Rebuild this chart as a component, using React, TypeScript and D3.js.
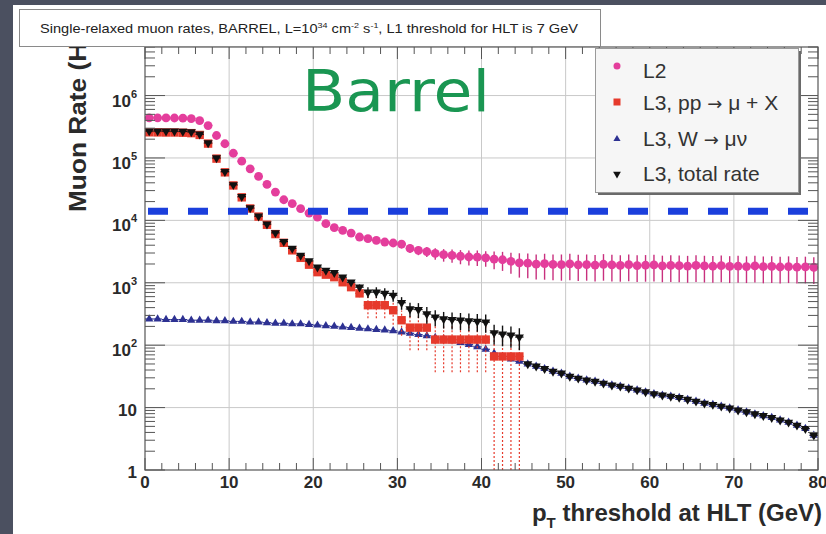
import React from "react";
import * as d3 from "d3";

const WIDTH = 826;
const HEIGHT = 534;

// lower edges of the 1 GeV wide threshold bins
const PT_BINS = d3.range(0, 80);
const X_TICKS = [0, 10, 20, 30, 40, 50, 60, 70, 80];
const Y_DECADES = [1, 10, 100, 1000, 10000, 100000, 1000000];
const HLT_BUDGET_HZ = 1.4e4;

const L2_RATE = [
  440000, 440000, 438000, 437000, 434000, 428000, 398000, 331000, 229000, 169000,
  119000, 89000, 67000, 50600, 37700, 28400, 21400, 18500, 15400, 13100,
  11300, 8850, 7640, 6920, 6270, 5410, 5090, 4790, 4500, 4340,
  4170, 3550, 3310, 3160, 2950, 2820, 2750, 2660, 2590, 2570,
  2510, 2400, 2340, 2210, 2090, 2060, 1990, 2020, 1970, 1960,
  2010, 1940, 1960, 1920, 1980, 1930, 1900, 1950, 1890, 1910,
  1930, 1870, 1900, 1880, 1850, 1900, 1860, 1840, 1880, 1830,
  1850, 1820, 1860, 1810, 1830, 1790, 1820, 1780, 1800, 1760,
];
const L2_ERR = [
  0, 0, 0, 0, 0, 0, 0, 0, 0, 0,
  0, 0, 0, 0, 0, 0, 0, 0, 0, 0,
  0, 0, 0, 0, 0, 0, 0, 0, 320, 360,
  620, 560, 540, 580, 620, 640, 650, 680, 690, 720,
  700, 760, 790, 820, 880, 880, 860, 900, 870, 880,
  910, 870, 880, 870, 900, 880, 860, 890, 860, 870,
  880, 850, 870, 860, 850, 870, 850, 840, 860, 840,
  850, 830, 850, 830, 840, 820, 830, 810, 820, 800,
];

const L3_PP_RATE = [
  258000, 257000, 256000, 256000, 254000, 250000, 234000, 170000, 97700, 58900,
  36300, 23400, 15500, 11500, 8510, 6030, 4370, 3310, 2510, 1950,
  1480, 1350, 1230, 1020, 851, 676, 437, 437, 437, 363,
  251, 191, 191, 191, 123, 123, 123, 123, 123, 123,
  123, 66, 66, 66, 66,
];
const L3_PP_ERR = [
  0, 0, 0, 0, 0, 0, 0, 0, 0, 0,
  0, 0, 0, 0, 0, 0, 0, 0, 0, 0,
  85, 85, 85, 80, 80, 90, 168, 168, 168, 150,
  110, 108, 108, 108, 86, 86, 86, 86, 86, 86,
  86, 70, 70, 70, 70,
];

const L3_W_RATE = [
  263, 263, 257, 257, 257, 251, 251, 251, 245, 245,
  240, 240, 234, 234, 229, 224, 224, 219, 219, 214,
  209, 204, 200, 195, 191, 186, 182, 178, 174, 170,
  162, 155, 148, 141, 132, 126, 117, 110, 102, 94,
  86, 74, 66, 60, 55, 50, 46, 42, 38, 35.5,
  31.6, 29.5, 27.5, 26.3, 24.5, 22.9, 21.9, 20.4, 19.1, 17.8,
  16.6, 15.8, 15.1, 14.5, 13.5, 12.6, 11.7, 11.2, 10.5, 9.8,
  9.1, 8.5, 7.9, 7.4, 6.9, 6.3, 5.8, 5.2, 4.6, 3.6,
];
const L3_W_ERR = [
  10, 10, 10, 10, 10, 10, 10, 10, 10, 10,
  9, 9, 9, 9, 9, 9, 9, 9, 9, 9,
  8, 8, 8, 8, 8, 8, 8, 8, 7, 7,
  7, 7, 7, 7, 6, 6, 6, 6, 5, 5,
  5, 4, 4, 4, 4, 4, 3.7, 3.4, 3.1, 2.9,
  2.6, 2.4, 2.3, 2.2, 2.0, 1.9, 1.8, 1.7, 1.6, 1.5,
  1.4, 1.3, 1.3, 1.2, 1.2, 1.1, 1.0, 1.0, 0.95, 0.9,
  0.85, 0.8, 0.75, 0.7, 0.66, 0.62, 0.58, 0.54, 0.5, 0.45,
];

const L3_TOTAL_RATE = [
  270000, 270000, 269000, 268000, 266000, 262000, 240000, 174000, 100000, 60300,
  37200, 24000, 15800, 11700, 8710, 6310, 4570, 3550, 2750, 2240,
  1780, 1580, 1450, 1230, 1020, 851, 708, 708, 676, 631,
  479, 380, 372, 316, 282, 263, 257, 251, 245, 240,
  234, 158, 151, 145, 135, 50, 46, 42, 38, 35.5,
  31.6, 29.5, 27.5, 26.3, 24.5, 22.9, 21.9, 20.4, 19.1, 17.8,
  16.6, 15.8, 15.1, 14.5, 13.5, 12.6, 11.7, 11.2, 10.5, 9.8,
  9.1, 8.5, 7.9, 7.4, 6.9, 6.3, 5.8, 5.2, 4.6, 3.6,
];
const L3_TOTAL_ERR = [
  0, 0, 0, 0, 0, 0, 0, 0, 0, 0,
  0, 0, 0, 0, 0, 0, 250, 200, 170, 140,
  90, 85, 85, 80, 80, 90, 140, 140, 140, 135,
  110, 100, 100, 95, 80, 78, 78, 77, 77, 76,
  76, 55, 55, 54, 52, 4, 3.7, 3.4, 3.1, 2.9,
  2.6, 2.4, 2.3, 2.2, 2.0, 1.9, 1.8, 1.7, 1.6, 1.5,
  1.4, 1.3, 1.3, 1.2, 1.2, 1.1, 1.0, 1.0, 0.95, 0.9,
  0.85, 0.8, 0.75, 0.7, 0.66, 0.62, 0.58, 0.54, 0.5, 0.45,
];

const COLORS = {
  l2: "#e43e9c",
  l2Bar: "#c8307e",
  pp: "#e63a2c",
  w: "#2d3192",
  total: "#111111",
  budget: "#1b3fdc",
  grid: "#c9c9c9",
  axis: "#555555",
  barrel: "#1a9652",
};

const FONT = "'Liberation Sans', Arial, Helvetica, sans-serif";
const ARROW_FONT = "'DejaVu Sans', sans-serif";
const FRAME = { left: 145, right: 818, top: 47, bottom: 470 };

const x = d3.scaleLinear().domain([0, 80]).range([FRAME.left, FRAME.right]);
const y = d3.scaleLog().domain([1, 6e6]).range([FRAME.bottom, FRAME.top]);
const yClamp = (v: number) =>
  v <= 0 ? FRAME.bottom : Math.max(FRAME.top, Math.min(FRAME.bottom, y(v)));

const triUp = (size: number) => d3.symbol().type(d3.symbolTriangle).size(size)() || "";

type Marker = "circle" | "square" | "up" | "down";

function MarkerShape({ kind, cx, cy, color, s }: { kind: Marker; cx: number; cy: number; color: string; s: number }) {
  if (kind === "circle") return <circle cx={cx} cy={cy} r={s} fill={color} />;
  if (kind === "square") return <rect x={cx - s} y={cy - s} width={2 * s} height={2 * s} fill={color} />;
  const p = triUp(s);
  return (
    <path
      d={p}
      fill={color}
      transform={`translate(${cx},${cy})${kind === "down" ? " rotate(180)" : ""}`}
    />
  );
}

function Series({
  rates, errs, color, barColor, dotted, kind, s,
}: {
  rates: number[]; errs: number[]; color: string; barColor: string; dotted?: boolean; kind: Marker; s: number;
}) {
  return (
    <g>
      {rates.map((v, i) => {
        if (!(v > 0)) return null;
        const e = errs[i] || 0;
        const cx = x(PT_BINS[i] + 0.5);
        const cy = y(v);
        return (
          <g key={i}>
            <line x1={x(PT_BINS[i])} x2={x(PT_BINS[i] + 1)} y1={cy} y2={cy} stroke={color} strokeWidth={1.2} />
            {e > 0 && (
              <line
                x1={cx}
                x2={cx}
                y1={yClamp(v - e)}
                y2={yClamp(v + e)}
                stroke={barColor}
                strokeWidth={dotted ? 1.2 : 1.4}
                strokeDasharray={dotted ? "2 2" : undefined}
              />
            )}
            <MarkerShape kind={kind} cx={cx} cy={cy} color={color} s={s} />
          </g>
        );
      })}
    </g>
  );
}

// legend rows: label parts before and after the arrow
const LEGEND: { pre: string; post: string; kind: Marker; color: string; s: number }[] = [
  { pre: "L2", post: "", kind: "circle", color: COLORS.l2, s: 3.5 },
  { pre: "L3, pp ", post: " \u03bc + X", kind: "square", color: COLORS.pp, s: 3.5 },
  { pre: "L3, W ", post: " \u03bc\u03bd", kind: "up", color: COLORS.w, s: 22 },
  { pre: "L3, total rate", post: "", kind: "down", color: COLORS.total, s: 26 },
];
const LEGEND_MARK_Y = [66, 102, 139, 174];
const LEGEND_TEXT_Y = [78, 110, 146, 181];

export default function App() {
  const minorY: number[] = [];
  Y_DECADES.forEach((d) => {
    for (let k = 2; k <= 9; k++) if (k * d <= 6e6) minorY.push(k * d);
  });
  const minorX = d3.range(0, 81, 2).filter((v) => v % 10 !== 0);

  return (
    <svg
      width={WIDTH}
      height={HEIGHT}
      style={{ position: "absolute", left: 0, top: 0, display: "block" }}
      fontFamily={FONT}
    >
      <rect width={WIDTH} height={HEIGHT} fill="#4b5060" />
      <rect x={13} y={5} width={WIDTH - 13} height={HEIGHT - 5} fill="#ffffff" />

      {/* grid */}
      {X_TICKS.slice(1, -1).map((t) => (
        <line key={"gx" + t} x1={x(t)} x2={x(t)} y1={FRAME.top} y2={FRAME.bottom} stroke={COLORS.grid} strokeWidth={1} />
      ))}
      {Y_DECADES.slice(1).map((t) => (
        <line key={"gy" + t} x1={FRAME.left} x2={FRAME.right} y1={y(t)} y2={y(t)} stroke={COLORS.grid} strokeWidth={1} />
      ))}

      {/* data */}
      <Series rates={L2_RATE} errs={L2_ERR} color={COLORS.l2} barColor={COLORS.l2Bar} kind="circle" s={4.4} />
      <Series rates={L3_W_RATE} errs={L3_W_ERR} color={COLORS.w} barColor={COLORS.w} kind="up" s={30} />
      <Series rates={L3_PP_RATE} errs={L3_PP_ERR} color={COLORS.pp} barColor={COLORS.pp} dotted kind="square" s={4.2} />
      <Series rates={L3_TOTAL_RATE} errs={L3_TOTAL_ERR} color={COLORS.total} barColor={COLORS.total} kind="down" s={36} />

      {/* HLT rate budget */}
      <line
        x1={FRAME.left + 3}
        x2={FRAME.right}
        y1={y(HLT_BUDGET_HZ)}
        y2={y(HLT_BUDGET_HZ)}
        stroke={COLORS.budget}
        strokeWidth={7}
        strokeDasharray="20 20"
      />

      {/* frame and ticks */}
      <rect
        x={FRAME.left}
        y={FRAME.top}
        width={FRAME.right - FRAME.left}
        height={FRAME.bottom - FRAME.top}
        fill="none"
        stroke={COLORS.axis}
        strokeWidth={1.2}
      />
      {X_TICKS.map((t) => (
        <g key={"xt" + t} stroke={COLORS.axis} strokeWidth={1}>
          <line x1={x(t)} x2={x(t)} y1={FRAME.bottom} y2={FRAME.bottom - 12} />
          <line x1={x(t)} x2={x(t)} y1={FRAME.top} y2={FRAME.top + 12} />
        </g>
      ))}
      {minorX.map((t) => (
        <g key={"xm" + t} stroke={COLORS.axis} strokeWidth={1}>
          <line x1={x(t)} x2={x(t)} y1={FRAME.bottom} y2={FRAME.bottom - 7} />
          <line x1={x(t)} x2={x(t)} y1={FRAME.top} y2={FRAME.top + 7} />
        </g>
      ))}
      {Y_DECADES.map((t) => (
        <g key={"yt" + t} stroke={COLORS.axis} strokeWidth={1}>
          <line x1={FRAME.left} x2={FRAME.left + 20} y1={y(t)} y2={y(t)} />
          <line x1={FRAME.right} x2={FRAME.right - 20} y1={y(t)} y2={y(t)} />
        </g>
      ))}
      {minorY.map((t) => (
        <g key={"ym" + t} stroke={COLORS.axis} strokeWidth={1}>
          <line x1={FRAME.left} x2={FRAME.left + 10} y1={y(t)} y2={y(t)} />
          <line x1={FRAME.right} x2={FRAME.right - 10} y1={y(t)} y2={y(t)} />
        </g>
      ))}

      {/* tick labels */}
      {X_TICKS.map((t) => (
        <text key={"xl" + t} x={x(t)} y={488} textAnchor="middle" fontSize={17} fontWeight="bold" fill="#2a2a2a">
          {t}
        </text>
      ))}
      {Y_DECADES.map((t) => {
        const exp = Math.round(Math.log10(t));
        if (exp <= 1)
          return (
            <text key={"yl" + t} x={137} y={y(t) + 8} textAnchor="end" fontSize={17} fontWeight="bold" fill="#2a2a2a">
              {t}
            </text>
          );
        return (
          <text key={"yl" + t} x={137} y={y(t) + 11} textAnchor="end" fontSize={17} fontWeight="bold" fill="#2a2a2a">
            10
            <tspan fontSize={11} dy={-9}>{exp}</tspan>
          </text>
        );
      })}

      {/* axis titles */}
      <text
        transform="translate(86,212) rotate(-90)"
        fontSize={24}
        fontWeight="bold"
        fill="#2a2a2a"
        textLength={191}
        lengthAdjust="spacingAndGlyphs"
      >
        Muon Rate (Hz)
      </text>
      <text x={822} y={521} textAnchor="end" fontSize={24} fontWeight="bold" fill="#2a2a2a">
        p<tspan fontSize={15} dy={7}>T</tspan>
        <tspan dy={-7}> threshold at HLT (GeV)</tspan>
      </text>

      {/* plot label */}
      <text
        x={302}
        y={111}
        fontFamily="'Comic Sans MS', 'DejaVu Sans', sans-serif"
        fontSize={57}
        fill={COLORS.barrel}
        textLength={188}
        lengthAdjust="spacingAndGlyphs"
      >
        Barrel
      </text>

      {/* title box */}
      <rect x={19.5} y={9.5} width={581} height={37} fill="#ffffff" stroke="#8a8a8a" strokeWidth={1} />
      <text x={40} y={33} fontSize={13} fill="#222" textLength={538} lengthAdjust="spacingAndGlyphs">
        Single-relaxed muon rates, BARREL, L=10<tspan fontSize={8} dy={-5}>34</tspan>
        <tspan dy={5}> cm</tspan>
        <tspan fontSize={8} dy={-5}>-2</tspan>
        <tspan dy={5}> s</tspan>
        <tspan fontSize={8} dy={-5}>-1</tspan>
        <tspan dy={5}>, L1 threshold for HLT is 7 GeV</tspan>
      </text>

      {/* legend */}
      <rect x={598} y={51} width={203} height={144} fill="#6a6a6a" />
      <rect x={595.5} y={48.5} width={203} height={144} fill="#f6f6f6" stroke="#9a9a9a" strokeWidth={1} />
      {LEGEND.map((e, i) => (
        <g key={e.pre}>
          <MarkerShape kind={e.kind} cx={617} cy={LEGEND_MARK_Y[i]} color={e.color} s={e.s} />
          <text x={643} y={LEGEND_TEXT_Y[i]} fontSize={21} fill="#333">
            {e.pre}
            {e.post && <tspan fontFamily={ARROW_FONT} fontSize={18}>{"\u2192"}</tspan>}
            {e.post && <tspan>{e.post}</tspan>}
          </text>
        </g>
      ))}
    </svg>
  );
}
